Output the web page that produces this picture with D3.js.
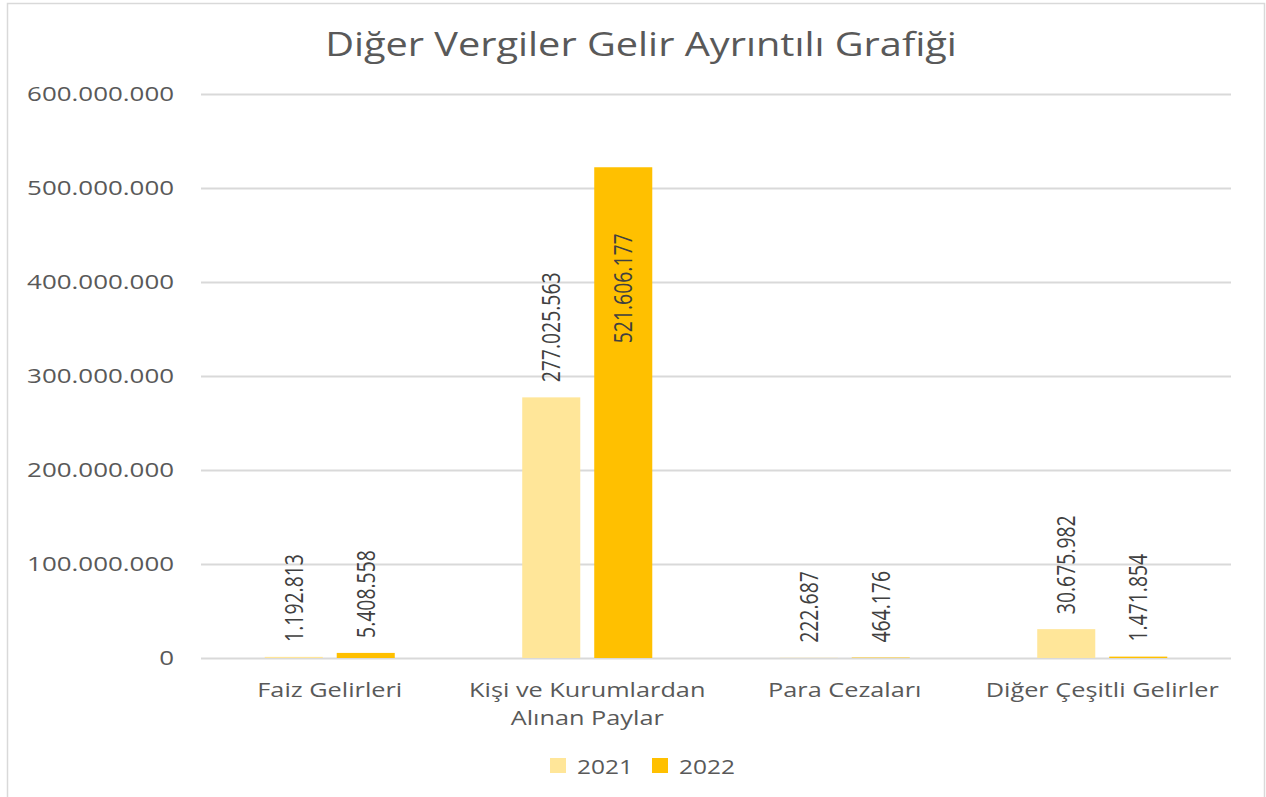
<!DOCTYPE html>
<html>
<head>
<meta charset="utf-8">
<script src="https://cdn.jsdelivr.net/npm/d3@7"></script>
<style>
  html, body { margin: 0; padding: 0; background: #fff; }
  svg { display: block; }
  text { font-family: "Open Sans", "DejaVu Sans", sans-serif; }
</style>
</head>
<body>
<svg id="chart" width="1266" height="797"></svg>
<script>
// ---- data ----
const title = "Diğer Vergiler Gelir Ayrıntılı Grafiği";
const categories = [
  ["Faiz Gelirleri"],
  ["Kişi ve Kurumlardan", "Alınan Paylar"],
  ["Para Cezaları"],
  ["Diğer Çeşitli Gelirler"]
];
const seriesNames = ["2021", "2022"];
const values2021 = [1192813, 277025563, 222687, 30675982];
const values2022 = [5408558, 521606177, 464176, 1471854];
const yTicks = [0, 100000000, 200000000, 300000000, 400000000, 500000000, 600000000];
const seriesColors = ["#FFE699", "#FFC000"];

// ---- layout ----
const svg = d3.select("#chart");
const W = 1266, H = 797;
const plot = { left: 201, right: 1231, top: 93.5, bottom: 658 };

const fmt = v => d3.format(",")(v).replace(/,/g, ".");

const catKeys = categories.map(c => c.join(" "));
const x0 = d3.scaleBand().domain(catKeys).range([plot.left, plot.right])
  .paddingInner(0.495).paddingOuter(0.2475);
const x1 = d3.scaleBand().domain(seriesNames).range([0, x0.bandwidth()])
  .paddingInner(0.194).paddingOuter(0);
const y = d3.scaleLinear().domain([0, 600000000]).range([plot.bottom, plot.top]);

const data = catKeys.map((k, i) => ({ key: k, vals: [values2021[i], values2022[i]] }));

// helper: measure natural width
const measurer = svg.append("text").attr("x", -9999).attr("y", -9999);
function natural(str, size) {
  measurer.attr("font-size", size).text(str);
  return measurer.node().getComputedTextLength();
}

// border
svg.append("rect").attr("x", 7.5).attr("y", 3.5).attr("width", 1257).attr("height", 820)
  .attr("fill", "none").attr("stroke", "#D9D9D9").attr("stroke-width", 1.5);

// gridlines
svg.append("g").selectAll("line").data(yTicks).join("line")
  .attr("x1", plot.left).attr("x2", plot.right)
  .attr("y1", d => Math.round(y(d)) + 0.5).attr("y2", d => Math.round(y(d)) + 0.5)
  .attr("stroke", "#D9D9D9").attr("stroke-width", 2);

// y tick labels
const ySize = 19.5;
const yK = 147 / natural("600.000.000", ySize);
svg.append("g").selectAll("g").data(yTicks).join("g")
  .attr("transform", d => `translate(174,${y(d) + 7}) scale(${yK},1)`)
  .append("text").attr("text-anchor", "end").attr("font-size", ySize)
  .attr("fill", "#595959").text(d => fmt(d));

// bars
const groups = svg.append("g").selectAll("g").data(data).join("g")
  .attr("transform", d => `translate(${x0(d.key)},0)`);
groups.selectAll("rect").data(d => d.vals.map((v, i) => ({ v, s: seriesNames[i], i })))
  .join("rect")
  .attr("x", d => x1(d.s)).attr("width", x1.bandwidth())
  .attr("y", d => y(d.v)).attr("height", d => Math.max(0, y(0) - y(d.v)))
  .attr("fill", d => seriesColors[d.i]);

// data labels (rotated)
const lSize = 26;
const lK = 110 / natural("277.025.563", lSize);
groups.selectAll("g.lbl").data(d => d.vals.map((v, i) => ({ v, s: seriesNames[i], i })))
  .join("g").attr("class", "lbl")
  .each(function(d) {
    const g = d3.select(this);
    const len = natural(fmt(d.v), lSize) * lK;
    const top = y(d.v);
    let startY = top - 15;
    if (startY - len < plot.top) startY = top + 66 + len; // inside the bar
    const cx = x1(d.s) + x1.bandwidth() / 2 + 9;
    g.attr("transform", `translate(${cx},${startY}) rotate(-90) scale(${lK},1)`)
      .append("text").attr("font-size", lSize).attr("fill", "#404040")
      .text(fmt(d.v));
  });

// x category labels
const xSize = 20;
const xK = 145 / natural("Faiz Gelirleri", xSize);
svg.append("g").selectAll("g").data(categories).join("g")
  .each(function(lines, i) {
    const cx = x0(catKeys[i]) + x0.bandwidth() / 2;
    lines.forEach((ln, j) => {
      d3.select(this).append("g")
        .attr("transform", `translate(${cx},${697 + j * 28}) scale(${xK},1)`)
        .append("text").attr("text-anchor", "middle").attr("font-size", xSize)
        .attr("fill", "#595959").text(ln);
    });
  });

// title
const tSize = 32;
const tK = 632 / natural(title, tSize);
svg.append("g").attr("transform", `translate(641,56) scale(${tK},1)`)
  .append("text").attr("text-anchor", "middle").attr("font-size", tSize)
  .attr("fill", "#595959").text(title);

// legend
const lgSize = 20;
const lgK = 56 / natural("2021", lgSize);
const legendX = [550, 652];
const lg = svg.append("g").selectAll("g").data(seriesNames).join("g")
  .attr("transform", (d, i) => `translate(${legendX[i]},0)`);
lg.append("rect").attr("x", 0).attr("y", 758).attr("width", 16).attr("height", 15)
  .attr("fill", (d, i) => seriesColors[i]);
lg.append("g").attr("transform", `translate(27,774) scale(${lgK},1)`)
  .append("text").attr("font-size", lgSize).attr("fill", "#595959").text(d => d);

measurer.remove();
</script>
</body>
</html>
